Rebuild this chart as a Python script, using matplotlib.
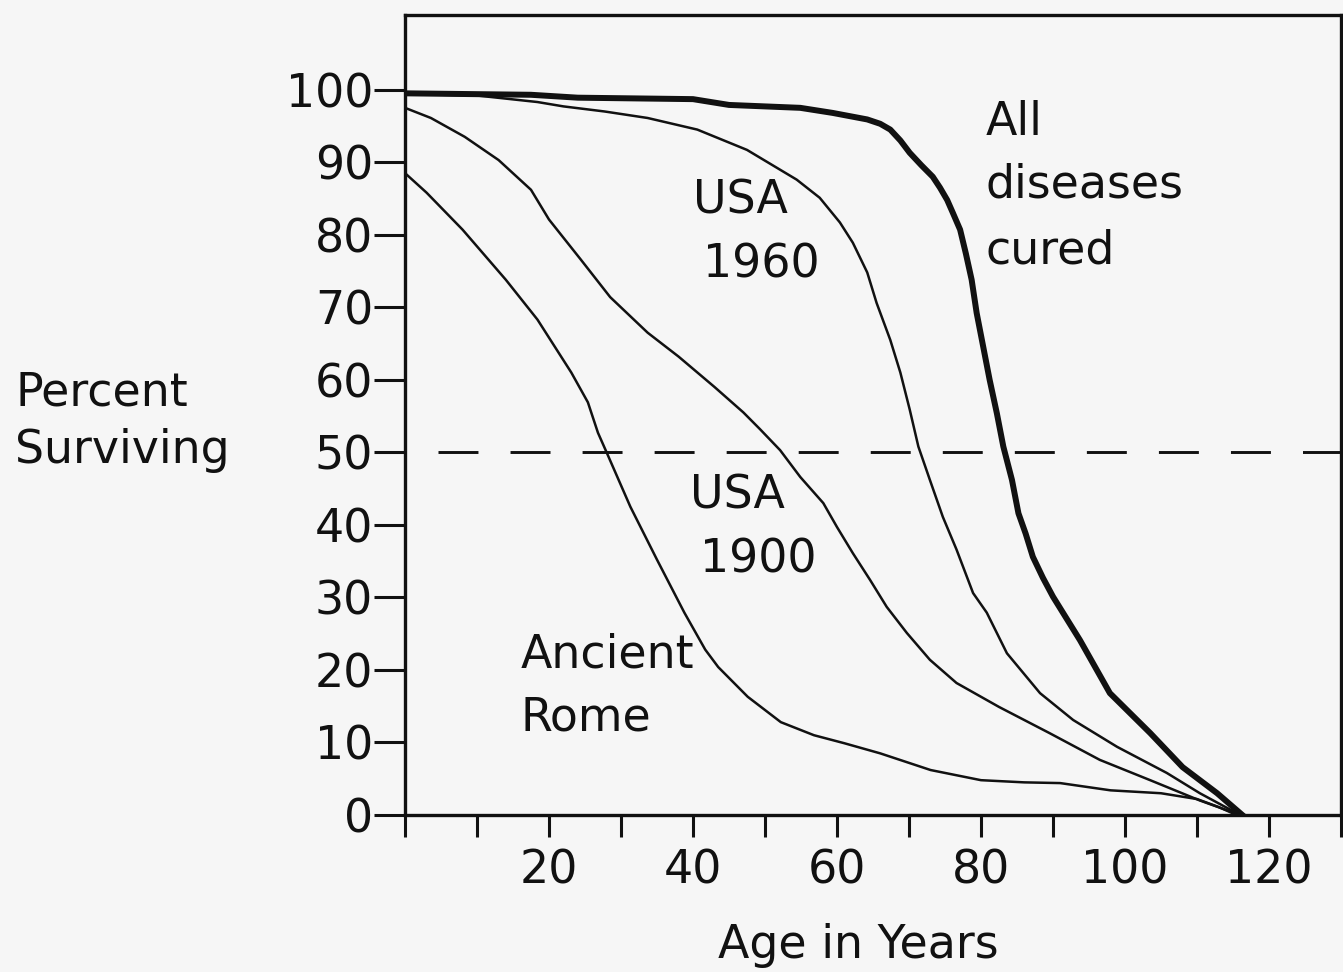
import matplotlib
matplotlib.use("Agg")
import matplotlib.pyplot as plt

# ---- data ----
age_rome = [0, 3, 8, 14, 18.4, 23.1, 25.4, 26.8, 28, 31.3, 35, 38.8, 41.7, 43.5, 47.6, 52.2, 56.8, 61, 66, 73, 80, 86, 91, 98, 105, 110, 113, 115.5]
surv_rome = [88.5, 85.8, 80.7, 73.8, 68.3, 61, 56.9, 52.7, 50.0, 42.5, 35.2, 27.9, 22.8, 20.4, 16.3, 12.8, 11.0, 9.9, 8.5, 6.2, 4.8, 4.5, 4.4, 3.4, 3.0, 2.2, 1.1, 0]

age_1900 = [0, 3.6, 8.3, 13, 17.5, 20, 24.4, 28.5, 33.7, 38, 43, 47, 49.3, 52.1, 54.9, 58.1, 60, 62.2, 64.6, 66.9, 69.7, 72.9, 76.6, 82.5, 89.5, 96.5, 103.5, 110.4, 116]
surv_1900 = [97.5, 96.1, 93.5, 90.3, 86.2, 82.1, 76.6, 71.4, 66.5, 63.2, 59, 55.5, 53.2, 50.3, 46.6, 43, 39.7, 36.1, 32.4, 28.7, 25.1, 21.4, 18.2, 14.9, 11.3, 7.6, 4.8, 2.0, 0]

age_1960 = [0, 10, 18.4, 22, 27.7, 33.7, 40.6, 47.5, 54.4, 57.6, 60.4, 62.2, 64.2, 65.5, 67.4, 68.8, 70.1, 71.3, 72.9, 74.7, 76.6, 78.9, 80.8, 83.6, 88.2, 92.8, 98.9, 105.8, 110.4, 116]
surv_1960 = [99.4, 99.2, 98.3, 97.7, 97.0, 96.1, 94.5, 91.7, 87.6, 85.1, 81.7, 78.9, 74.8, 70.6, 65.5, 61, 55.9, 50.8, 46.2, 41.1, 36.6, 30.6, 27.9, 22.3, 16.8, 13.1, 9.4, 5.8, 3.0, 0]

age_cured = [0, 17.5, 24, 40, 45, 54.9, 59.4, 64.2, 66, 67.4, 68.8, 70.1, 71.7, 73.3, 74.3, 75.3, 76.1, 77.1, 77.9, 78.7, 79.4, 80.3, 81.2, 82.2, 83.1, 84.3, 85.2, 86.2, 87.2, 88.6, 90, 93.75, 97.9, 103.5, 108, 112.8, 116.3]
surv_cured = [99.5, 99.3, 98.9, 98.7, 97.9, 97.5, 96.8, 95.9, 95.3, 94.5, 93.0, 91.3, 89.6, 88.0, 86.5, 84.8, 83.0, 80.7, 77.4, 73.8, 69.2, 64.6, 60, 55.4, 50.8, 46.2, 41.6, 38.8, 35.6, 32.7, 30.1, 24.1, 16.8, 11.3, 6.6, 3.0, 0]

y_ticks = list(range(0, 101, 10))
x_ticks = list(range(0, 131, 10))
x_labels = ["" if t % 20 or t == 0 or t > 120 else str(t) for t in x_ticks]
median_level = 50
median_start = 4.6

# ---- figure ----
W, H = 1343, 972
bg = "#f6f6f6"
ink = "#111111"
FS = 33
plt.rcParams["font.family"] = ["DejaVu Sans"]

fig = plt.figure(figsize=(W / 100, H / 100), dpi=100, facecolor=bg)
ax = fig.add_axes([405 / W, 1 - 815 / H, (1341 - 405) / W, (815 - 15) / H])
ax.set_facecolor(bg)

ax.plot(age_rome, surv_rome, color=ink, lw=1.8, solid_joinstyle="round")
ax.plot(age_1900, surv_1900, color=ink, lw=1.8, solid_joinstyle="round")
ax.plot(age_1960, surv_1960, color=ink, lw=1.8, solid_joinstyle="round")
ax.plot(age_cured, surv_cured, color=ink, lw=4.3, solid_joinstyle="round")

ax.plot([median_start, 130], [median_level, median_level], color=ink, lw=2.1,
        dashes=(13.7, 11.0), dash_capstyle="butt")

ax.set_xlim(0, 130)
ax.set_ylim(0, 110.3)
ax.set_xticks(x_ticks)
ax.set_xticklabels(x_labels)
ax.set_yticks(y_ticks)
ax.set_yticklabels([str(t) for t in y_ticks])
ax.tick_params(axis="x", direction="out", length=16, width=2.2, pad=8,
               labelsize=FS, colors=ink)
ax.tick_params(axis="y", direction="out", length=22, width=2.2, pad=1,
               labelsize=FS, colors=ink)
for s in ax.spines.values():
    s.set_linewidth(2.4)
    s.set_color(ink)

# curve labels
tk = dict(fontsize=FS, color=ink, va="baseline", ha="left")
ax.text(40.0, 83.0, "USA", **tk)
ax.text(41.4, 74.1, "1960", **tk)
ax.text(80.6, 93.8, "All", **tk)
ax.text(80.6, 85.1, "diseases", **tk)
ax.text(80.6, 76.1, "cured", **tk)
ax.text(39.6, 42.3, "USA", **tk)
ax.text(41.0, 33.5, "1900", **tk)
ax.text(16.0, 20.4, "Ancient", **tk)
ax.text(16.0, 11.7, "Rome", **tk)

# axis titles
fig.text(15 / W, 1 - 405 / H, "Percent", fontsize=FS, color=ink, va="baseline", ha="left")
fig.text(15 / W, 1 - 463 / H, "Surviving", fontsize=FS, color=ink, va="baseline", ha="left")
fig.text(718 / W, 1 - 958 / H, "Age in Years", fontsize=FS, color=ink, va="baseline", ha="left")

fig.savefig("out.png", dpi=100, facecolor=bg)
